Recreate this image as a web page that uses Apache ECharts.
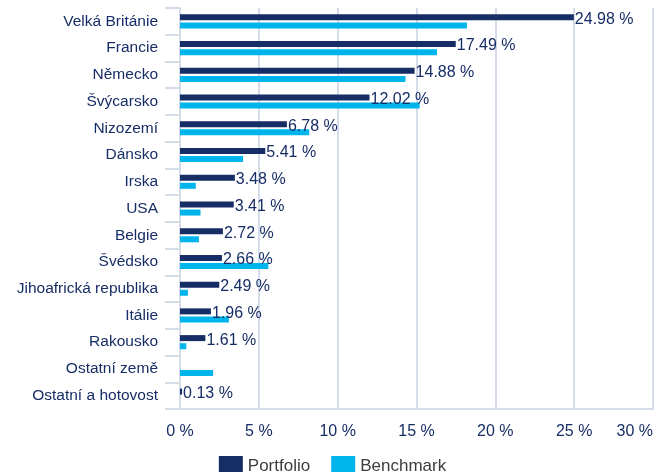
<!DOCTYPE html>
<html>
<head>
<meta charset="utf-8">
<script src="https://cdn.jsdelivr.net/npm/echarts@6/dist/echarts.min.js"></script>
<style>
  html, body { margin: 0; padding: 0; background: #fff; }
  #chart { width: 665px; height: 472px; }
</style>
</head>
<body>
<div id="chart"></div>
<script>
// země (shora dolů)
var countries = ['Velká Británie', 'Francie', 'Německo', 'Švýcarsko', 'Nizozemí', 'Dánsko', 'Irska', 'USA',
    'Belgie', 'Švédsko', 'Jihoafrická republika', 'Itálie', 'Rakousko', 'Ostatní země', 'Ostatní a hotovost'];
var portfolio = [24.98, 17.49, 14.88, 12.02, 6.78, 5.41, 3.48, 3.41, 2.72, 2.66, 2.49, 1.96, 1.61, '-', 0.13];
var benchmark = [18.2, 16.3, 14.3, 15.2, 8.2, 4.0, 1.0, 1.3, 1.2, 5.6, 0.5, 3.1, 0.4, 2.1, 0];
var xTicks = [0, 5, 10, 15, 20, 25, 30];

var navy = '#172d66';
var cyan = '#00b4ec';
var lineColor = '#d3dce8';
var font = '"Liberation Sans", Arial, sans-serif';

var myChart = echarts.init(document.getElementById('chart'));
var option = {
    animation: false,
    textStyle: { fontFamily: font },
    grid: { left: 180, right: 12, top: 8, bottom: 63, containLabel: false },
    legend: {
        top: 451,
        left: 'center',
        itemWidth: 24,
        itemHeight: 20,
        itemGap: 21,
        icon: 'rect',
        textStyle: { fontSize: 17, color: '#3d3d3d', fontFamily: font },
        data: ['Portfolio', 'Benchmark']
    },
    xAxis: {
        type: 'value',
        min: xTicks[0],
        max: xTicks[xTicks.length - 1],
        interval: 5,
        axisLine: { show: true, lineStyle: { color: lineColor, width: 2 } },
        axisTick: { show: false },
        splitLine: { show: true, lineStyle: { color: lineColor, width: 2 } },
        axisLabel: {
            margin: 15,
            fontSize: 16,
            color: navy,
            alignMaxLabel: 'right',
            formatter: '{value} %'
        }
    },
    yAxis: {
        type: 'category',
        inverse: true,
        data: countries,
        axisLine: { show: true, lineStyle: { color: lineColor, width: 2 } },
        axisTick: { show: true, length: 15, lineStyle: { color: lineColor, width: 2 } },
        axisLabel: { margin: 22, fontSize: 15.5, color: navy }
    },
    series: [
        {
            name: 'Portfolio',
            type: 'bar',
            data: portfolio,
            barWidth: 6,
            barGap: '35%',
            itemStyle: { color: navy },
            z: 2,
            label: {
                show: true,
                position: 'right',
                distance: 1,
                offset: [0, 2],
                fontSize: 16,
                color: navy,
                formatter: function (p) { return p.value.toFixed(2) + ' %'; }
            }
        },
        {
            name: 'Benchmark',
            type: 'bar',
            data: benchmark,
            barWidth: 6,
            itemStyle: { color: cyan },
            z: 1
        }
    ]
};
myChart.setOption(option);
</script>
</body>
</html>
